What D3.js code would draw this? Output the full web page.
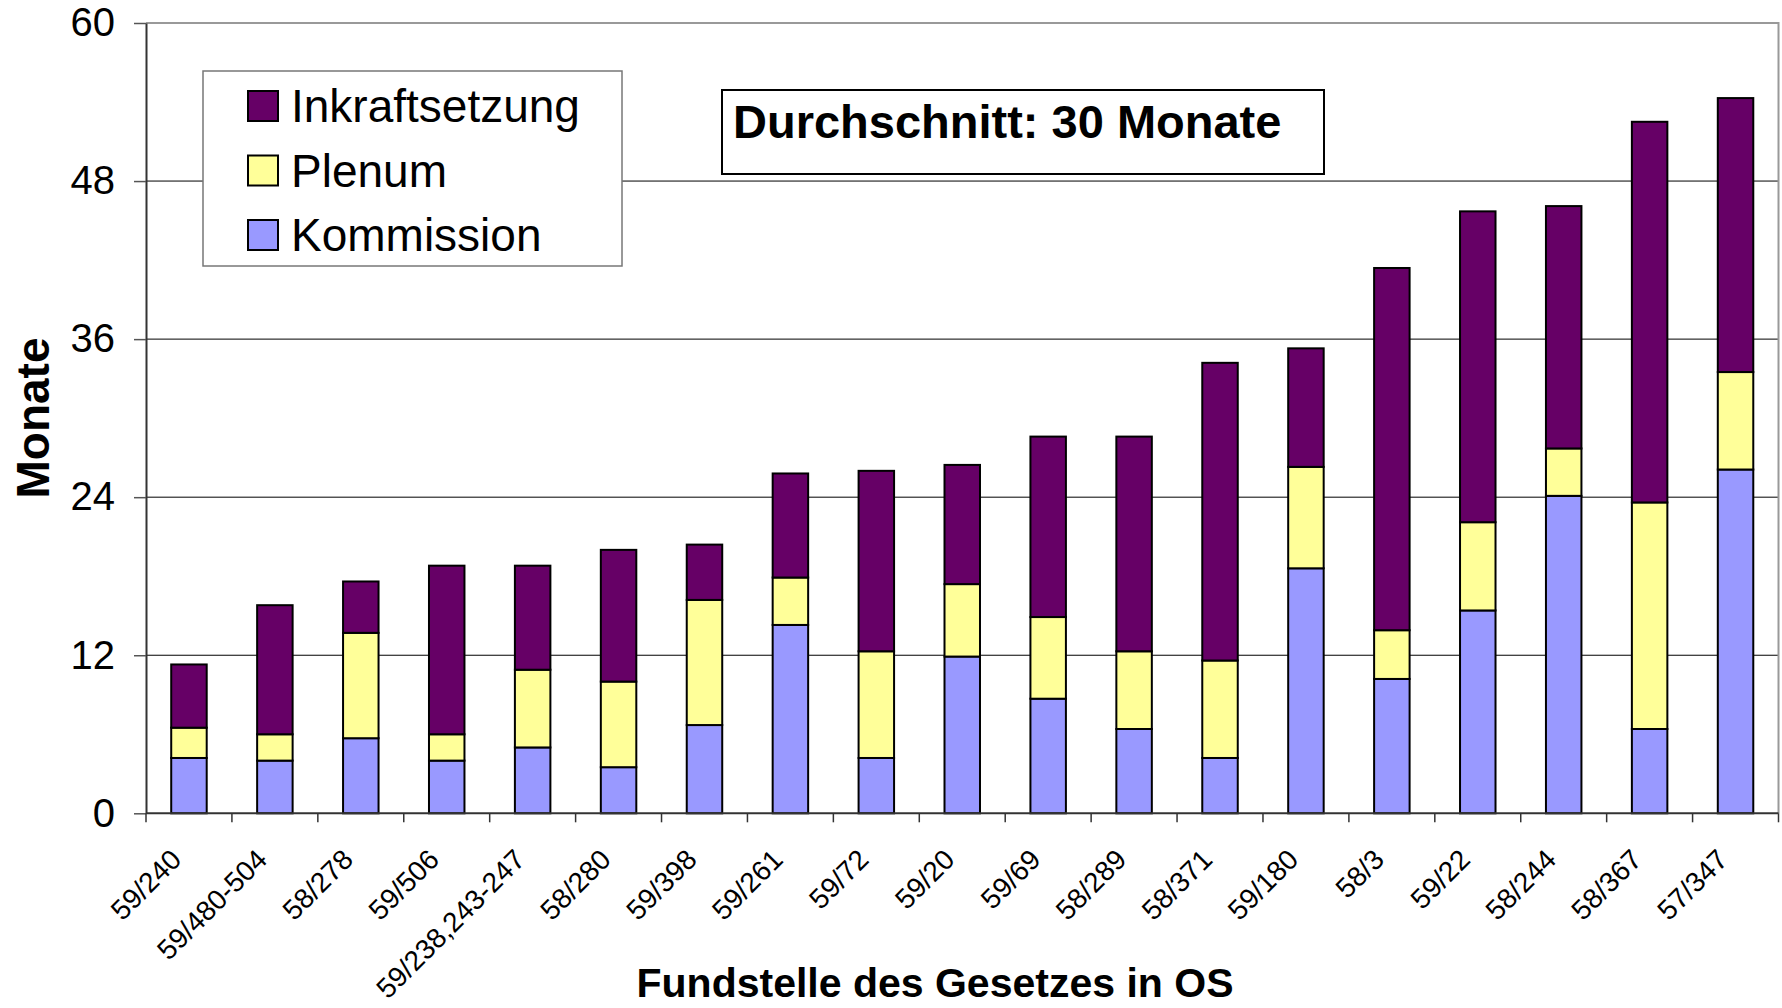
<!DOCTYPE html>
<html>
<head>
<meta charset="utf-8">
<script src="https://cdn.jsdelivr.net/npm/d3@7"></script>
<style>
  html, body { margin: 0; padding: 0; background: #fff; }
  svg { display: block; font-family: "Liberation Sans", Arial, sans-serif; }
</style>
</head>
<body>
<svg width="1782" height="1008"></svg>
<script>
var svg = d3.select("svg"),
    width = +svg.attr("width"),
    height = +svg.attr("height");

var margin = {top: 23, right: 3.5, bottom: 194.7, left: 146};

// data (months)
var categories = ["59/240", "59/480-504", "58/278", "59/506", "59/238,243-247", "58/280",
  "59/398", "59/261", "59/72", "59/20", "59/69", "58/289", "58/371", "59/180", "58/3",
  "59/22", "58/244", "58/367", "57/347"];
var kommission = [4.2, 4.0, 5.7, 4.0, 5.0, 3.5, 6.7, 14.3, 4.2, 11.9, 8.7, 6.4, 4.2, 18.6, 10.2, 15.4, 24.1, 6.4, 26.1];
var plenum = [2.3, 2.0, 8.0, 2.0, 5.9, 6.5, 9.5, 3.6, 8.1, 5.5, 6.2, 5.9, 7.4, 7.7, 3.7, 6.7, 3.6, 17.2, 7.4];
var inkraft = [4.8, 9.8, 3.9, 12.8, 7.9, 10.0, 4.2, 7.9, 13.7, 9.05, 13.7, 16.3, 22.6, 9.0, 27.5, 23.6, 18.4, 28.9, 20.8];
var yTicks = [0, 12, 24, 36, 48, 60];

var seriesKeys = ["Kommission", "Plenum", "Inkraftsetzung"];
var colors = {"Kommission": "#9999FF", "Plenum": "#FFFF99", "Inkraftsetzung": "#660066"};

var rows = categories.map(function(c, i) {
  return {cat: c, Kommission: kommission[i], Plenum: plenum[i], Inkraftsetzung: inkraft[i]};
});

var x = d3.scaleBand()
  .domain(categories)
  .range([margin.left, width - margin.right])
  .paddingInner(0.587)
  .paddingOuter(0.2935);

var y = d3.scaleLinear()
  .domain([0, 60])
  .range([height - margin.bottom, margin.top]);

// gridlines
svg.append("g")
  .selectAll("line")
  .data(yTicks.filter(function(d) { return d > 0 && d < 60; }))
  .enter().append("line")
    .attr("x1", margin.left)
    .attr("x2", width - margin.right)
    .attr("y1", function(d) { return y(d); })
    .attr("y2", function(d) { return y(d); })
    .attr("stroke", "#000")
    .attr("stroke-width", 1);

// top and right border of plot area
svg.append("path")
  .attr("d", "M" + margin.left + "," + y(60) + "H" + (width - margin.right) + "V" + y(0))
  .attr("fill", "none")
  .attr("stroke", "#999")
  .attr("stroke-width", 2);

// bars
var stack = d3.stack().keys(seriesKeys);
var layers = stack(rows);

svg.append("g")
  .selectAll("g")
  .data(layers)
  .enter().append("g")
    .attr("fill", function(d) { return colors[d.key]; })
  .selectAll("rect")
  .data(function(d) { return d; })
  .enter().append("rect")
    .attr("x", function(d) { return x(d.data.cat); })
    .attr("y", function(d) { return y(d[1]); })
    .attr("width", x.bandwidth())
    .attr("height", function(d) { return y(d[0]) - y(d[1]); })
    .attr("stroke", "#000")
    .attr("stroke-width", 2);

// y axis
var yAxis = svg.append("g")
  .attr("transform", "translate(" + margin.left + ",0)")
  .call(d3.axisLeft(y).tickValues(yTicks).tickSize(12).tickPadding(19).tickSizeOuter(0));
yAxis.select(".domain").attr("stroke", "#333").attr("stroke-width", 2);
yAxis.selectAll(".tick line").attr("stroke", "#555").attr("stroke-width", 1.5);
yAxis.selectAll(".tick text")
  .attr("font-size", 40)
  .attr("font-family", "Liberation Sans, Arial, sans-serif")
  .attr("fill", "#000");

// x axis: ticks at category boundaries
var xAxisG = svg.append("g");
xAxisG.append("line")
  .attr("x1", margin.left)
  .attr("x2", width - margin.right)
  .attr("y1", y(0))
  .attr("y2", y(0))
  .attr("stroke", "#333")
  .attr("stroke-width", 2);

var bounds = categories.map(function(c) { return x(c) - x.step() * x.paddingInner() / 2; });
bounds.push(width - margin.right);
xAxisG.selectAll(".xtick")
  .data(bounds)
  .enter().append("line")
    .attr("class", "xtick")
    .attr("x1", function(d) { return d; })
    .attr("x2", function(d) { return d; })
    .attr("y1", y(0))
    .attr("y2", y(0) + 9)
    .attr("stroke", "#333")
    .attr("stroke-width", 1.5);

xAxisG.selectAll(".xlabel")
  .data(categories)
  .enter().append("text")
    .attr("class", "xlabel")
    .attr("transform", function(d) {
      var cx = x(d) + x.bandwidth() / 2 - 6;
      return "translate(" + cx + "," + (y(0) + 48) + ") rotate(-45)";
    })
    .attr("text-anchor", "end")
    .attr("font-size", 28)
    .text(function(d) { return d; });

// axis titles
svg.append("text")
  .attr("x", 935)
  .attr("y", 997)
  .attr("text-anchor", "middle")
  .attr("font-size", 41)
  .attr("font-weight", "bold")
  .text("Fundstelle des Gesetzes in OS");

svg.append("text")
  .attr("transform", "translate(49,418) rotate(-90)")
  .attr("text-anchor", "middle")
  .attr("font-size", 46)
  .attr("font-weight", "bold")
  .text("Monate");

// legend
var legend = svg.append("g");
legend.append("rect")
  .attr("x", 203).attr("y", 71)
  .attr("width", 419).attr("height", 195)
  .attr("fill", "#fff")
  .attr("stroke", "#777")
  .attr("stroke-width", 1.5);

var legendKeys = ["Inkraftsetzung", "Plenum", "Kommission"];
var item = legend.selectAll(".item")
  .data(legendKeys)
  .enter().append("g")
    .attr("class", "item")
    .attr("transform", function(d, i) { return "translate(248," + (91 + i * 64.5) + ")"; });
item.append("rect")
  .attr("width", 30).attr("height", 30)
  .attr("fill", function(d) { return colors[d]; })
  .attr("stroke", "#000")
  .attr("stroke-width", 2);
item.append("text")
  .attr("x", 43)
  .attr("y", 31)
  .attr("font-size", 46)
  .text(function(d) { return d; });

// average text box
svg.append("rect")
  .attr("x", 722).attr("y", 90)
  .attr("width", 602).attr("height", 84)
  .attr("fill", "#fff")
  .attr("stroke", "#000")
  .attr("stroke-width", 2);
svg.append("text")
  .attr("x", 733)
  .attr("y", 138)
  .attr("font-size", 47)
  .attr("font-weight", "bold")
  .text("Durchschnitt: 30 Monate");
</script>
</body>
</html>
